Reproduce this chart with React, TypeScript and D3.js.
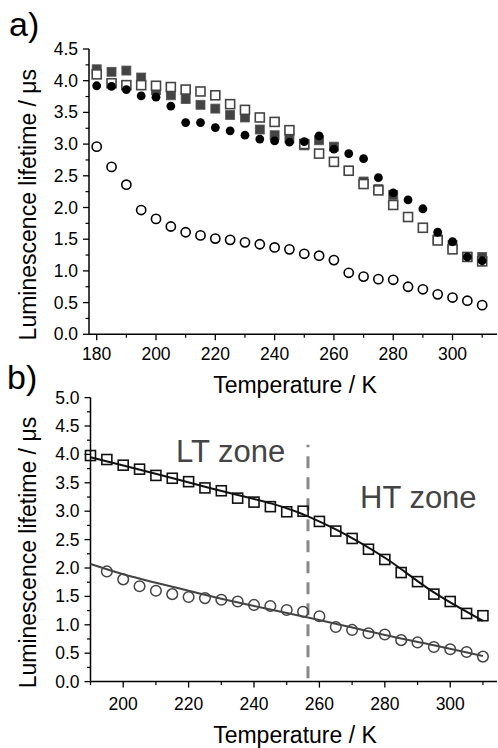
import React from "react";
import * as d3 from "d3";

// ---------- Panel a data ----------
const tempsA = [180, 185, 190, 195, 200, 205, 210, 215, 220, 225, 230, 235, 240, 245, 250, 255, 260, 265, 270, 275, 280, 285, 290, 295, 300, 305, 310];
const filledSquaresA = [4.18, 4.14, 4.16, 4.05, 3.85, 3.77, 3.71, 3.62, 3.56, 3.46, 3.42, 3.23, 3.14, 3.09, 2.98, 3.06, 2.96, 2.58, 2.41, 2.29, 2.2, 1.85, 1.68, 1.5, 1.41, 1.22, 1.22];
const openSquaresA = [4.1, 3.96, 3.93, 3.93, 3.92, 3.9, 3.86, 3.83, 3.77, 3.63, 3.54, 3.42, 3.35, 3.22, 3.0, 2.85, 2.72, 2.58, 2.37, 2.27, 2.04, 1.85, 1.68, 1.48, 1.34, 1.22, 1.15];
const filledCirclesA = [3.92, 3.91, 3.86, 3.76, 3.74, 3.6, 3.34, 3.34, 3.26, 3.21, 3.14, 3.08, 3.05, 3.03, 3.04, 3.13, 2.92, 2.85, 2.77, 2.47, 2.23, 2.12, 1.98, 1.61, 1.46, 1.22, 1.16];
const openCirclesA = [2.96, 2.64, 2.36, 1.96, 1.82, 1.7, 1.61, 1.56, 1.51, 1.49, 1.45, 1.42, 1.37, 1.34, 1.27, 1.24, 1.17, 0.97, 0.91, 0.87, 0.86, 0.75, 0.71, 0.63, 0.58, 0.53, 0.46];

// ---------- Panel b data ----------
const tempsBSq = [190, 195, 200, 205, 210, 215, 220, 225, 230, 235, 240, 245, 250, 255, 260, 265, 270, 275, 280, 285, 290, 295, 300, 305, 310];
const squaresB = [3.98, 3.91, 3.81, 3.74, 3.63, 3.58, 3.52, 3.41, 3.36, 3.23, 3.16, 3.08, 2.99, 3.0, 2.82, 2.65, 2.52, 2.33, 2.15, 1.92, 1.76, 1.54, 1.41, 1.2, 1.16];
const tempsBCi = [195, 200, 205, 210, 215, 220, 225, 230, 235, 240, 245, 250, 255, 260, 265, 270, 275, 280, 285, 290, 295, 300, 305, 310];
const circlesB = [1.94, 1.8, 1.68, 1.6, 1.54, 1.49, 1.47, 1.44, 1.41, 1.35, 1.33, 1.26, 1.23, 1.15, 0.96, 0.91, 0.85, 0.83, 0.73, 0.69, 0.61, 0.57, 0.52, 0.44];

const squareFitT = [190, 225, 256.5, 265, 280, 295, 310];
const squareFitV = [3.95, 3.43, 2.91, 2.68, 2.18, 1.57, 1.07];
const circleFitT = [190, 200, 210, 220, 230, 240, 256.5, 265, 280, 295, 310];
const circleFitV = [2.07, 1.89, 1.74, 1.6, 1.46, 1.33, 1.13, 1.02, 0.82, 0.64, 0.45];

const zoneBoundary = 256.5;
const zoneLineRange = [0.06, 4.17];

const xTicksA = [180, 200, 220, 240, 260, 280, 300];
const xMinorA = [190, 210, 230, 250, 270, 290, 310];
const yTicksA = [0, 0.5, 1, 1.5, 2, 2.5, 3, 3.5, 4, 4.5];
const xTicksB = [200, 220, 240, 260, 280, 300];
const xMinorB = [190, 210, 230, 250, 270, 290, 310];
const yTicksB = [0, 0.5, 1, 1.5, 2, 2.5, 3, 3.5, 4, 4.5, 5];

const FONT = "'Liberation Sans', Arial, sans-serif";
const yLabel = "Luminescence lifetime / \u03bcs";
const xLabel = "Temperature / K";

type AxisProps = {
  x: d3.ScaleLinear<number, number>;
  y: d3.ScaleLinear<number, number>;
  xTicks: number[];
  xMinor: number[];
  yTicks: number[];
  yMinor: number[];
  titleY: number;
  tickLabelDy: number;
};

function Axes({ x, y, xTicks, xMinor, yTicks, yMinor, titleY, tickLabelDy }: AxisProps) {
  const [x0, x1] = x.range();
  const [y0, y1] = y.range();
  const ax = x0;
  const ay = y0;
  return (
    <g fontFamily={FONT} fill="#000">
      <line x1={ax} x2={x1} y1={ay} y2={ay} stroke="#000" strokeWidth={1.5} />
      <line x1={ax} x2={ax} y1={ay} y2={y1} stroke="#000" strokeWidth={1.5} />
      {xTicks.map((t) => (
        <g key={"xt" + t}>
          <line x1={x(t)} x2={x(t)} y1={ay} y2={ay + 6} stroke="#000" strokeWidth={1.3} />
          <text x={x(t)} y={ay + tickLabelDy} textAnchor="middle" fontSize={17.5}>
            {t}
          </text>
        </g>
      ))}
      {xMinor.map((t) => (
        <line key={"xm" + t} x1={x(t)} x2={x(t)} y1={ay} y2={ay + 3.5} stroke="#000" strokeWidth={1.2} />
      ))}
      {yTicks.map((t) => (
        <g key={"yt" + t}>
          <line x1={ax - 6} x2={ax} y1={y(t)} y2={y(t)} stroke="#000" strokeWidth={1.3} />
          <text x={ax - 11} y={y(t) + 6} textAnchor="end" fontSize={17.5}>
            {t.toFixed(1)}
          </text>
        </g>
      ))}
      {yMinor.map((t) => (
        <line key={"ym" + t} x1={ax - 3.5} x2={ax} y1={y(t)} y2={y(t)} stroke="#000" strokeWidth={1.2} />
      ))}
      <text x={295} y={titleY} textAnchor="middle" fontSize={23}>
        {xLabel}
      </text>
      <text
        transform={`translate(36,${(y0 + y1) / 2 + 13}) rotate(-90)`}
        textAnchor="middle"
        fontSize={23}
      >
        {yLabel}
      </text>
    </g>
  );
}

export default function App() {
  // Panel a scales
  const xA = d3.scaleLinear().domain([177.4, 315]).range([89, 497]);
  const yA = d3.scaleLinear().domain([0, 4.5]).range([334.3, 49]);
  // Panel b scales
  const xB = d3.scaleLinear().domain([190, 314.3]).range([90.5, 497]);
  const yB = d3.scaleLinear().domain([0, 5]).range([681.6, 397.6]);

  const yMinorA = d3.range(0.25, 4.5, 0.5);
  const yMinorB = d3.range(0.25, 5, 0.5);

  const sqA = 9;
  const sqB = 10;

  const sqFit = d3
    .line<number>()
    .x((_, i) => xB(squareFitT[i]))
    .y((v) => yB(v))
    .curve(d3.curveMonotoneX)(squareFitV) as string;
  const ciFit = d3
    .line<number>()
    .x((_, i) => xB(circleFitT[i]))
    .y((v) => yB(v))
    .curve(d3.curveMonotoneX)(circleFitV) as string;

  return (
    <svg
      width={498}
      height={748}
      style={{ position: "absolute", left: 0, top: 0, background: "#fff" }}
    >
      <rect x={0} y={0} width={498} height={748} fill="#fff" />
      {/* Panel labels */}
      <text x={9} y={36} fontFamily={FONT} fontSize={34}>
        a)
      </text>
      <text x={7} y={389} fontFamily={FONT} fontSize={34}>
        b)
      </text>

      {/* Panel a */}
      <Axes
        x={xA}
        y={yA}
        xTicks={xTicksA}
        xMinor={xMinorA}
        yTicks={yTicksA}
        yMinor={yMinorA}
        titleY={393}
        tickLabelDy={26}
      />
      <g>
        {filledSquaresA.map((v, i) => (
          <rect
            key={"fs" + i}
            x={xA(tempsA[i]) - sqA / 2}
            y={yA(v) - sqA / 2}
            width={sqA}
            height={sqA}
            fill="#444"
            stroke="#555"
            strokeWidth={0.8}
          />
        ))}
        {openSquaresA.map((v, i) => (
          <rect
            key={"os" + i}
            x={xA(tempsA[i]) - sqA / 2}
            y={yA(v) - sqA / 2}
            width={sqA}
            height={sqA}
            fill="#fff"
            stroke="#444"
            strokeWidth={1.6}
          />
        ))}
        {filledCirclesA.map((v, i) => (
          <circle key={"fc" + i} cx={xA(tempsA[i])} cy={yA(v)} r={4.4} fill="#000" />
        ))}
        {openCirclesA.map((v, i) => (
          <circle
            key={"oc" + i}
            cx={xA(tempsA[i])}
            cy={yA(v)}
            r={4.6}
            fill="#fff"
            stroke="#000"
            strokeWidth={1.6}
          />
        ))}
      </g>

      {/* Panel b */}
      <Axes
        x={xB}
        y={yB}
        xTicks={xTicksB}
        xMinor={xMinorB}
        yTicks={yTicksB}
        yMinor={yMinorB}
        titleY={743}
        tickLabelDy={28}
      />
      <g>
        <line
          x1={xB(zoneBoundary)}
          x2={xB(zoneBoundary)}
          y1={yB(zoneLineRange[0])}
          y2={yB(zoneLineRange[1])}
          stroke="#888"
          strokeWidth={3}
          strokeDasharray="12,9"
        />
        <text x={176} y={462} fontFamily={FONT} fontSize={31} fill="#444">
          LT zone
        </text>
        <text x={360} y={508} fontFamily={FONT} fontSize={31} fill="#444">
          HT zone
        </text>
        {squaresB.map((v, i) => (
          <rect
            key={"sb" + i}
            x={xB(tempsBSq[i]) - sqB / 2}
            y={yB(v) - sqB / 2}
            width={sqB}
            height={sqB}
            fill="none"
            stroke="#111"
            strokeWidth={1.6}
          />
        ))}
        {circlesB.map((v, i) => (
          <circle
            key={"cb" + i}
            cx={xB(tempsBCi[i])}
            cy={yB(v)}
            r={5.3}
            fill="none"
            stroke="#444"
            strokeWidth={1.5}
          />
        ))}
        <path d={sqFit} fill="none" stroke="#111" strokeWidth={2} />
        <path d={ciFit} fill="none" stroke="#444" strokeWidth={2} />
      </g>
    </svg>
  );
}
